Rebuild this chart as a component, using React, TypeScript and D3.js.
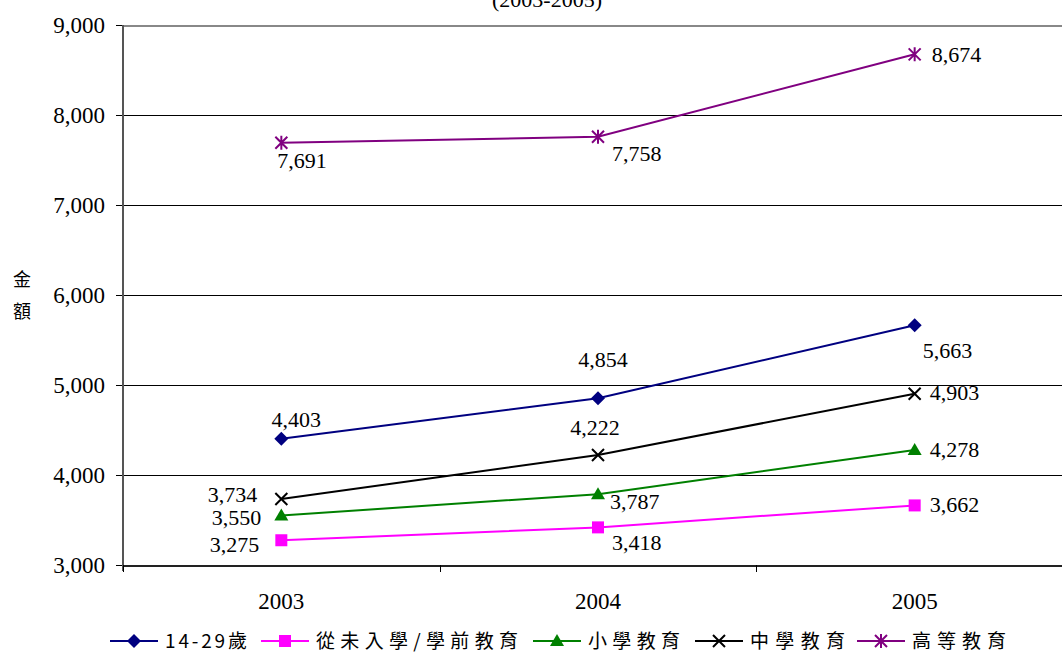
import React from "react";
import * as d3 from "d3";

const years = ["2003", "2004", "2005"];
const seriesNames = ["14-29歲", "從未入學/學前教育", "小學教育", "中學教育", "高等教育"];
const youthAll = [4403, 4854, 5663];
const noSchool = [3275, 3418, 3662];
const primary = [3550, 3787, 4278];
const secondary = [3734, 4222, 4903];
const tertiary = [7691, 7758, 8674];
const yTicks = [3000, 4000, 5000, 6000, 7000, 8000, 9000];
const colors = ["#000080", "#FF00FF", "#008000", "#000000", "#800080"];
const markers = ["diamond", "square", "triangle", "x", "star"];

// label placement [dx, dy, anchor] per series per point
const labelPlace: [number, number, string][][] = [
  [[15, -12, "middle"], [5, -31, "middle"], [8, 33, "start"]],
  [[-22, 12, "end"], [14, 23, "start"], [15, 7, "start"]],
  [[-20, 9, "end"], [12, 15, "start"], [15, 7, "start"]],
  [[-24, 3, "end"], [-3, -20, "middle"], [15, 6, "start"]],
  [[-4, 25, "start"], [14, 24, "start"], [17, 8, "start"]],
];

const legendX = [110, 261, 533, 695, 857];
const legendTextW = [82, 202, 92, 95, 94];

function Marker({ type, x, y, color }: { type: string; x: number; y: number; color: string }) {
  const s = 6;
  if (type === "diamond")
    return <path d={`M${x},${y - s - 1}L${x + s + 1},${y}L${x},${y + s + 1}L${x - s - 1},${y}Z`} fill={color} />;
  if (type === "square") return <rect x={x - s} y={y - s} width={2 * s} height={2 * s} fill={color} />;
  if (type === "triangle")
    return <path d={`M${x},${y - s - 1}L${x + s + 1},${y + s - 1}L${x - s - 1},${y + s - 1}Z`} fill={color} />;
  if (type === "x")
    return (
      <path d={`M${x - s},${y - s}L${x + s},${y + s}M${x - s},${y + s}L${x + s},${y - s}`} stroke={color} strokeWidth={2} />
    );
  return (
    <path
      d={`M${x - s},${y - s}L${x + s},${y + s}M${x - s},${y + s}L${x + s},${y - s}M${x},${y - s - 1}L${x},${y + s + 1}`}
      stroke={color}
      strokeWidth={2}
    />
  );
}

export default function App() {
  const data = [youthAll, noSchool, primary, secondary, tertiary];
  const left = 123, right = 1073, top = 25, bottom = 565;
  const x = d3.scaleBand<string>().domain(years).range([left, right]);
  const y = d3.scaleLinear().domain([3000, 9000]).range([bottom, top]);
  const fmt = d3.format(",");
  const line = d3
    .line<number>()
    .x((_, i) => (x(years[i]) as number) + x.bandwidth() / 2)
    .y((d) => y(d));
  const serif = { fontFamily: "'Liberation Serif', 'Times New Roman', 'DejaVu Serif', serif" };
  const cjk = { fontFamily: "'Noto Sans CJK TC', 'Noto Sans CJK SC', sans-serif" };
  const boundaries = [...years.map((yr) => x(yr) as number), right];

  return (
    <svg width={1062} height={654} style={{ position: "absolute", left: 0, top: 0, background: "#fff" }}>
      <rect width={1062} height={654} fill="#fff" />
      <text x={547} y={7} textAnchor="middle" style={serif} fontSize={22} fill="#000">
        (2003-2005)
      </text>
      {yTicks.map((t) => (
        <g key={t}>
          <line
            x1={left}
            x2={right}
            y1={y(t) + 0.5}
            y2={y(t) + 0.5}
            stroke={t === 9000 ? "#888" : "#000"}
            strokeWidth={t === 9000 ? 2 : 1}
            shapeRendering="crispEdges"
          />
          <line x1={left - 7} x2={left} y1={y(t) + 0.5} y2={y(t) + 0.5} stroke="#000" shapeRendering="crispEdges" />
          <text x={105} y={y(t) + 8} textAnchor="end" style={serif} fontSize={23} fill="#000">
            {fmt(t)}
          </text>
        </g>
      ))}
      <line x1={left} x2={left} y1={top} y2={bottom + 6} stroke="#555" strokeWidth={2} shapeRendering="crispEdges" />
      <line x1={left} x2={right} y1={bottom + 0.5} y2={bottom + 0.5} stroke="#222" strokeWidth={2} shapeRendering="crispEdges" />
      {boundaries.map((b, i) => (
        <line key={i} x1={b + 0.5} x2={b + 0.5} y1={bottom} y2={bottom + 7} stroke="#000" shapeRendering="crispEdges" />
      ))}
      {years.map((yr) => (
        <text key={yr} x={(x(yr) as number) + x.bandwidth() / 2} y={609} textAnchor="middle" style={serif} fontSize={23}>
          {yr}
        </text>
      ))}
      <text x={22} y={286} textAnchor="middle" style={cjk} fontSize={18}>金</text>
      <text x={22} y={318} textAnchor="middle" style={cjk} fontSize={18}>額</text>
      {data.map((vals, si) => (
        <g key={si}>
          <path d={line(vals) || ""} fill="none" stroke={colors[si]} strokeWidth={2} />
          {vals.map((v, i) => {
            const cx = (x(years[i]) as number) + x.bandwidth() / 2;
            const cy = y(v);
            const [dx, dy, anchor] = labelPlace[si][i];
            return (
              <g key={i}>
                <Marker type={markers[si]} x={cx} y={cy} color={colors[si]} />
                <text x={cx + dx} y={cy + dy} textAnchor={anchor as any} style={serif} fontSize={22} fill="#000">
                  {fmt(v)}
                </text>
              </g>
            );
          })}
        </g>
      ))}
      {seriesNames.map((name, si) => {
        const lx = legendX[si];
        const ly = 641;
        return (
          <g key={name}>
            <line x1={lx} x2={lx + 48} y1={ly} y2={ly} stroke={colors[si]} strokeWidth={2} />
            <Marker type={markers[si]} x={lx + 24} y={ly} color={colors[si]} />
            <text
              x={lx + 55}
              y={ly + 7}
              style={cjk}
              fontSize={19}
              textLength={legendTextW[si]}
              lengthAdjust="spacing"
              fill="#000"
            >
              {name}
            </text>
          </g>
        );
      })}
    </svg>
  );
}
